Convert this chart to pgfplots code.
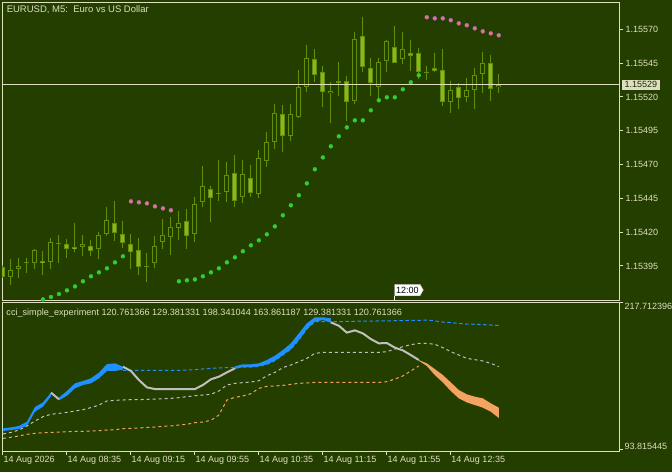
\documentclass[border=0pt]{standalone}
\usepackage{pgfplots}
\pgfplotsset{compat=1.18}
\usepackage{pgfplotstable}
\usetikzlibrary{shapes.symbols}
\usepackage{fontspec}
\setmainfont{Liberation Sans}
\definecolor{mtbg}{RGB}{36,62,0}
\definecolor{mtfg}{RGB}{222,222,192}
\definecolor{cline}{RGB}{98,142,8}
\definecolor{cfill}{RGB}{138,182,34}
\definecolor{sargreen}{RGB}{50,205,50}
\definecolor{sarpink}{RGB}{238,112,130}
\definecolor{sarpinkedge}{RGB}{150,110,190}
\definecolor{cciblue}{RGB}{30,144,255}
\definecolor{ccisilver}{RGB}{192,192,192}
\definecolor{cciorange}{RGB}{244,164,96}
\newcommand{\mtfont}{\fontsize{9}{10}\selectfont}

% candles, prices in points: value = (price - 1.15)*1e5
\pgfplotstableread{
i o h l c
0 394.5 395.7 385.9 386.6
1 387.1 400.2 381.0 392.0
2 392.5 401.2 386.4 395.0
3 397.7 401.2 390.1 397.7
4 397.0 407.3 392.5 406.8
5 398.5 406.1 388.3 397.0
6 397.7 416.0 392.5 412.5
7 411.8 417.9 397.5 411.0
8 411.0 415.0 401.2 407.3
9 408.8 427.0 405.6 407.3
10 408.8 417.9 402.7 411.0
11 409.8 414.2 402.4 406.3
12 407.3 419.9 400.4 417.9
13 418.4 438.9 417.2 429.0
14 426.5 443.1 413.5 419.7
15 418.4 428.5 408.1 411.8
16 411.0 418.4 392.5 405.6
17 406.8 415.5 388.3 394.5
18 395.3 404.4 383.4 395.3
19 397.5 417.2 393.8 409.8
20 412.5 429.7 407.3 417.9
21 416.7 431.0 403.1 423.6
22 423.3 435.7 414.2 426.5
23 428.3 437.2 407.3 417.4
24 418.4 446.3 412.5 440.9
25 442.6 469.0 438.4 454.2
26 451.7 454.2 427.8 445.5
27 448.7 473.4 443.1 448.7
28 449.5 471.7 442.6 462.3
29 463.5 477.1 438.4 443.3
30 446.3 473.4 441.8 463.0
31 459.8 469.7 446.3 449.2
32 448.0 480.8 445.5 474.6
33 472.9 493.8 468.5 486.4
34 486.4 514.8 481.5 507.9
35 507.2 514.0 479.6 491.4
36 491.4 514.8 487.7 507.2
37 505.4 539.9 504.2 527.1
38 527.6 558.4 523.9 548.6
39 547.8 555.2 531.3 536.5
40 538.2 542.9 512.8 523.9
41 522.7 530.8 500.5 524.4
42 530.6 546.1 520.9 531.8
43 531.8 535.5 502.5 516.5
44 517.3 567.8 514.5 562.6
45 565.1 579.4 538.7 542.4
46 541.2 548.6 520.9 530.1
47 527.6 548.6 517.7 545.6
48 546.8 562.1 538.7 561.4
49 556.7 572.5 544.9 544.9
50 547.8 567.8 544.1 555.2
51 552.3 562.1 539.4 550.3
52 552.3 555.9 533.3 538.7
53 538.7 542.9 532.5 538.7
54 541.2 552.8 538.7 538.9
55 539.7 555.5 513.6 516.0
56 516.0 531.8 507.9 524.9
57 527.6 530.1 510.9 519.0
58 519.7 534.3 516.0 525.1
59 524.9 541.2 510.9 536.0
60 536.7 553.0 522.7 544.9
61 544.9 551.0 517.3 525.6
62 527.4 537.0 522.7 529.0
}\candles

\pgfplotstableread{
i v
5 370.3
6 372.1
7 374.3
8 377.0
9 379.9
10 383.7
11 387.4
12 390.3
13 393.3
14 397.7
15 402.2
22 383.7
23 384.4
24 385.1
25 387.4
26 390.3
27 393.3
28 397.7
29 401.4
30 405.9
31 410.3
32 414.0
33 418.4
34 424.3
35 432.5
36 439.9
37 447.3
38 456.1
39 466.5
40 475.3
41 483.5
42 490.9
43 497.5
44 502.7
45 502.7
46 510.1
47 517.5
48 519.7
49 519.7
50 525.6
51 530.8
52 536.0
}\sarup

\pgfplotstableread{
i v
16 442.8
17 442.1
18 441.3
19 439.1
20 437.6
21 436.2
53 578.9
54 578.1
55 578.1
56 576.7
57 574.4
58 573.0
59 570.7
60 568.5
61 567.0
62 565.6
}\sardn

% the indicator's main line (gray where neither rising nor falling)
\pgfplotstableread{
i line
6 142.0
7 136.4
15 163.8
16 160.2
17 152.6
18 146.4
19 145.0
20 145.0
21 145.0
22 145.0
23 145.0
24 145.0
25 148.4
26 153.2
27 155.4
28 159.0
29 162.4
41 201.0
42 198.2
43 192.4
44 194.3
45 191.8
46 187.0
47 183.4
48 183.7
49 179.8
50 177.5
51 173.6
52 169.4
}\ccline

\pgfplotstableread{
i v
15 160.7
16 160.7
17 160.7
18 160.7
19 160.7
20 160.7
21 160.7
22 160.7
23 161.0
24 161.3
25 161.9
26 162.4
27 162.7
28 163.0
29 163.2
30 163.5
31 163.5
32 164.1
33 165.8
34 168.8
35 173.6
36 178.4
37 186.2
38 195.4
39 201.6
40 201.6
41 201.6
42 201.6
43 201.9
44 201.9
45 202.1
46 202.1
47 202.2
48 202.2
49 202.4
50 202.4
51 202.7
52 202.7
53 203.0
54 202.2
55 201.3
56 200.8
57 200.2
58 199.6
59 199.4
60 199.1
61 198.8
62 198.341044
}\lvup

\pgfplotstableread{
i v
0 107.3
1 108.6
2 110.6
3 114.0
4 118.2
5 121.8
6 123.8
7 124.6
8 125.4
9 126.6
10 127.7
11 129.4
12 131.6
13 135.0
14 135.5
15 135.8
16 136.1
17 136.1
18 136.4
19 136.6
20 136.9
21 137.2
22 137.8
23 138.6
24 139.4
25 140.0
26 140.6
27 143.4
28 148.4
29 149.8
30 150.4
31 150.9
32 152.0
33 156.2
34 159.0
35 163.0
36 165.2
37 168.0
38 170.8
39 175.0
40 175.8
41 175.8
42 175.8
43 175.8
44 175.8
45 175.8
46 175.8
47 175.8
48 176.4
49 178.6
50 180.6
51 182.3
52 183.4
53 183.4
54 182.6
55 179.8
56 176.4
57 173.6
58 170.8
59 169.7
60 168.6
61 166.6
62 163.861187
}\lvmid

\pgfplotstableread{
i v
0 103.6
1 104.5
2 105.6
3 107.0
4 107.8
5 108.4
6 108.6
7 108.9
8 109.2
9 109.5
10 109.5
11 109.8
12 110.0
13 110.6
14 110.9
15 111.7
16 112.0
17 112.3
18 112.8
19 113.1
20 113.7
21 114.0
22 114.8
23 115.4
24 116.8
25 117.3
26 118.7
27 123.2
28 135.8
29 138.0
30 139.2
31 141.1
32 145.6
33 147.3
34 147.6
35 148.1
36 149.0
37 149.8
38 150.1
39 150.6
40 150.6
41 150.6
42 150.6
43 150.6
44 150.6
45 150.6
46 150.6
47 150.6
48 151.2
49 153.4
50 156.0
51 160.2
52 164.4
}\lvlo

\pgfplotsset{
  mtaxis/.style={
    scale only axis, anchor=south west, width=617pt,
    xmin=-0.0875, xmax=77.075,
    axis line style={draw=mtfg, line width=1pt},
    every tick/.style={draw=mtfg, line width=1pt},
    major tick length=4pt, tick align=outside,
    ticklabel style={font=\mtfont, text=mtfg},
    clip mode=individual,
  },
  wick/.style={draw=none, mark=none, forget plot,
    error bars/.cd, y dir=minus, y explicit, error mark=none,
    error bar style={draw=cline, line width=1pt}},
  body/.style 2 args={draw=none, mark=none, forget plot,
    error bars/.cd, y dir=minus, y explicit, error mark=none,
    error bar style={draw=#1, line width=#2}},
}

\begin{document}
\begin{tikzpicture}
\fill[mtbg] (0,0) rectangle (672pt,472pt);

% ---------------- main price panel
\begin{axis}[mtaxis, at={(2.3pt,172pt)}, height=297.7pt,
  ymin=369.86, ymax=589.96, xtick=\empty,
  ytick={395,420,...,570},
  yticklabels={1.15395,1.15420,1.15445,1.15470,1.15495,1.15520,1.15545,1.15570},
  ytick pos=right, yticklabel pos=right,
  yticklabel style={anchor=west, inner xsep=2pt}]
% wicks
\addplot[wick] table[x=i, y=h, y error minus expr=\thisrow{h}-\thisrow{l}] {\candles};
% bear bodies
\addplot[restrict expr to domain={\thisrow{c}-\thisrow{o}}{-1000:-0.01}, body={cline}{5pt}]
  table[x=i, y=o, y error minus expr={max(\thisrow{o}-\thisrow{c},0.74)}] {\candles};
\addplot[restrict expr to domain={\thisrow{c}-\thisrow{o}}{-1000:-0.01}, body={cfill}{3pt}]
  table[x=i, y expr=\thisrow{o}-0.74, y error minus expr={max(\thisrow{o}-\thisrow{c}-1.48,0)}] {\candles};
% bull bodies
\addplot[restrict expr to domain={\thisrow{c}-\thisrow{o}}{0:1000}, body={cline}{5pt}]
  table[x=i, y=c, y error minus expr={max(\thisrow{c}-\thisrow{o},0.74)}] {\candles};
\addplot[restrict expr to domain={\thisrow{c}-\thisrow{o}}{0:1000}, body={mtbg}{3pt}]
  table[x=i, y expr=\thisrow{c}-0.74, y error minus expr={max(\thisrow{c}-\thisrow{o}-1.48,0)}] {\candles};
% parabolic SAR
\addplot[only marks, mark=*, mark size=2pt, mark options={fill=sargreen, draw=sargreen, line width=0.3pt}] table[x=i, y=v] {\sarup};
\addplot[only marks, mark=*, mark size=2pt, mark options={fill=sarpink, draw=sarpinkedge, line width=0.4pt}] table[x=i, y=v] {\sardn};
% current price line
\addplot[mtfg, line width=1pt] coordinates {(-1,529) (80,529)};
\node[anchor=north west, inner sep=0pt, font=\fontsize{9.5}{11}\selectfont, text=mtfg, xshift=4.3pt, yshift=-3.4pt]
  at (rel axis cs:0,1) {EURUSD, M5:\ \ Euro vs US Dollar};
\node[anchor=west, fill=mtfg, text=mtbg!70!black, inner xsep=2.5pt, inner ysep=1.5pt,
  text height=6.5pt, text depth=0pt, font=\mtfont, xshift=2.5pt] at (axis cs:77.075,529) {1.15529};
\draw[white, line width=1pt] (axis cs:49,369.86) -- ([yshift=4.5pt]axis cs:49,369.86);
\node[shape=signal, signal to=east, signal pointer angle=120, fill=white, draw=gray!70,
  text=black, inner xsep=1.5pt, inner ysep=2.5pt, text height=6.5pt, text depth=0pt,
  font=\mtfont, anchor=west, yshift=10pt, xshift=-0.5pt] at (axis cs:49,369.86) {12:00};
\end{axis}

% ---------------- indicator panel
\begin{axis}[mtaxis, at={(2.3pt,21pt)}, height=148.7pt,
  ymin=92.97, ymax=217.88,
  xtick={0,8,...,56},
  xticklabels={14 Aug 2026,14 Aug 08:35,14 Aug 09:15,14 Aug 09:55,14 Aug 10:35,14 Aug 11:15,14 Aug 11:55,14 Aug 12:35},
  xtick pos=bottom, xticklabel style={anchor=north west, inner xsep=0.5pt, inner ysep=1.5pt},
  ytick={217.712396}, yticklabels={217.712396},
  ytick pos=right, yticklabel pos=right,
  yticklabel style={anchor=north west, inner xsep=1pt, inner ysep=0.5pt},
  extra y ticks={93.815445}, extra y tick labels={93.815445},
  extra y tick style={ytick pos=right, yticklabel pos=right,
    yticklabel style={anchor=south west, inner xsep=1pt, inner ysep=0.5pt}}]
\addplot[cciorange, line width=1pt, dash pattern=on 3pt off 3pt] table[x=i, y=v] {\lvlo};
\addplot[ccisilver, line width=1pt, dash pattern=on 3pt off 3pt] table[x=i, y=v] {\lvmid};
\addplot[cciblue, line width=1pt, dash pattern=on 3.5pt off 2.5pt] table[x=i, y=v] {\lvup};
% filled bands: upper edge forward, lower edge back
\addplot[draw=none, fill=cciblue] coordinates {(0,112.0) (1,112.8) (2,114.0) (3,117.6) (4,129.9) (5,133.8) (6,142.0)
  (6,139.0) (5,130.2) (4,126.0) (3,114.2) (2,111.4) (1,110.6) (0,109.8)};
\addplot[draw=none, fill=cciblue] coordinates {(7,137.8) (8,143.4) (9,149.8) (10,151.8) (11,154.0) (12,158.8) (13,166.0) (14,166.6) (15,163.8)
  (15,161.3) (14,160.2) (13,160.2) (12,154.0) (11,149.8) (10,148.4) (9,145.6) (8,139.4) (7,135.5)};
\addplot[draw=none, fill=cciblue] coordinates {(29,164.1) (30,165.8) (31,165.8) (32,166.6) (33,169.4) (34,173.0) (35,177.8) (36,183.4) (37,191.8) (38,200.2) (39,205.3) (40,205.3) (41,204.4)
  (41,200.8) (40,203.0) (39,201.6) (38,195.4) (37,186.2) (36,178.4) (35,173.6) (34,168.8) (33,165.8) (32,164.1) (31,163.5) (30,163.5) (29,161.8)};
\addplot[draw=none, fill=cciorange] coordinates {(52,169.4) (53,166.6) (54,161.8) (55,156.8) (56,150.6) (57,144.2) (58,140.6) (59,138.6) (60,137.2) (61,133.0) (62,129.381331)
  (62,120.761366) (61,126.0) (60,129.4) (59,131.6) (58,133.8) (57,137.2) (56,143.4) (55,150.6) (54,156.8) (53,164.4) (52,168.8)};
\addplot[ccisilver, line width=2pt, restrict x to domain=6:7] table[x=i, y=line] {\ccline};
\addplot[ccisilver, line width=2pt, restrict x to domain=15:29] table[x=i, y=line] {\ccline};
\addplot[ccisilver, line width=2pt, restrict x to domain=41:52] table[x=i, y=line] {\ccline};
\node[anchor=north west, inner sep=0pt, font=\fontsize{9.1}{10}\selectfont, text=mtfg, xshift=4pt, yshift=-6pt]
  at (rel axis cs:0,1) {cci\_simple\_experiment 120.761366 129.381331 198.341044 163.861187 129.381331 120.761366};
\end{axis}
\pgfresetboundingbox
\path[use as bounding box] (0,0) rectangle (672pt,472pt);
\end{tikzpicture}
\end{document}
